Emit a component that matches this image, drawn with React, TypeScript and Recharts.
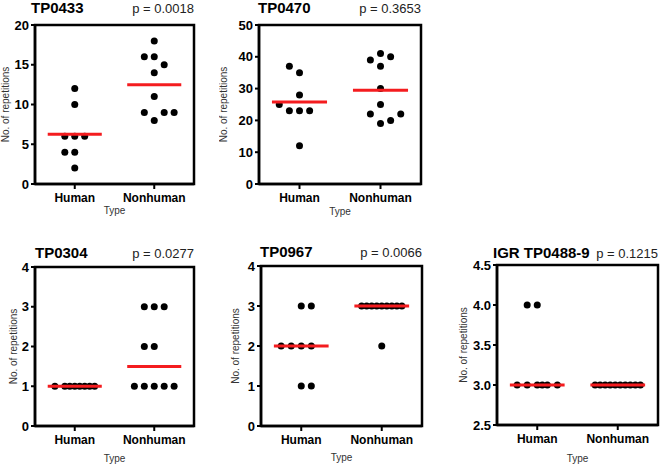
import { ScatterChart, Scatter, XAxis, YAxis, ReferenceArea } from "recharts";

const GROUPS = ["Human", "Nonhuman"];

// TP0433
const TP0433_HUMAN = [12, 10, 6, 6, 6, 4, 4, 2];
const TP0433_HUMAN_SLOT = [0, 0, -2, 0, 2, -2, 0, 0];
const TP0433_NONHUMAN = [18, 16, 16, 15, 14, 11, 9, 9, 9, 8];
const TP0433_NONHUMAN_SLOT = [0, -2, 0, 2, 0, 0, -2, 2, 4, 0];
const TP0433_CENTER = [6.25, 12.5];
const TP0433_TICKS = [0, 5, 10, 15, 20];

// TP0470
const TP0470_HUMAN = [37, 35, 28, 25, 23, 23, 23, 12];
const TP0470_HUMAN_SLOT = [-2, 0, 0, -4, -2, 0, 2, 0];
const TP0470_NONHUMAN = [41, 40, 39, 37, 30, 25, 22, 22, 20, 19];
const TP0470_NONHUMAN_SLOT = [0, 2, -2, 0, 0, 0, -2, 4, 2, 0];
const TP0470_CENTER = [25.75, 29.5];
const TP0470_TICKS = [0, 10, 20, 30, 40, 50];

// TP0304
const TP0304_HUMAN = [1, 1, 1, 1, 1, 1, 1, 1];
const TP0304_HUMAN_SLOT = [-4, -2, -1, 0, 1, 2, 3, 4];
const TP0304_NONHUMAN = [3, 3, 3, 2, 2, 1, 1, 1, 1, 1];
const TP0304_NONHUMAN_SLOT = [-2, 0, 2, -2, 0, -4, -2, 0, 2, 4];
const TP0304_CENTER = [1, 1.5];
const TP0304_TICKS = [0, 1, 2, 3, 4];

// TP0967
const TP0967_HUMAN = [3, 3, 2, 2, 2, 2, 1, 1];
const TP0967_HUMAN_SLOT = [0, 2, -4, -2, 0, 2, 0, 2];
const TP0967_NONHUMAN = [3, 3, 3, 3, 3, 3, 3, 3, 3, 2];
const TP0967_NONHUMAN_SLOT = [-4, -3, -2, -1, 0, 1, 2, 3, 4, 0];
const TP0967_CENTER = [2, 3];
const TP0967_TICKS = [0, 1, 2, 3, 4];

// IGR TP0488-9
const IGR_HUMAN = [4, 4, 3, 3, 3, 3, 3, 3];
const IGR_HUMAN_SLOT = [-2, 0, -4, -2, 0, 1, 2, 4];
const IGR_NONHUMAN = [3, 3, 3, 3, 3, 3, 3, 3, 3, 3];
const IGR_NONHUMAN_SLOT = [-4.5, -3.5, -2.5, -1.5, -0.5, 0.5, 1.5, 2.5, 3.5, 4.5];
const IGR_CENTER = [3, 3];
const IGR_TICKS = [2.5, 3, 3.5, 4, 4.5];

const SLOT = 0.0625; // horizontal jitter step, in category units
const HALF = 0.34; // half-width of the red centre line
const RED = "#f41c1f";
const FONT = "'Liberation Sans', Arial, sans-serif";

const panels = [
  {
    title: "TP0433", p: "p = 0.0018", values: [TP0433_HUMAN, TP0433_NONHUMAN],
    slots: [TP0433_HUMAN_SLOT, TP0433_NONHUMAN_SLOT], center: TP0433_CENTER, ticks: TP0433_TICKS,
    left: 35, top: 25, w: 159, h: 159, yLabelOffset: 10, typeOffset: 15, titleBase: 12.5, titleDx: -4, fmt: (v: number) => String(v),
  },
  {
    title: "TP0470", p: "p = 0.3653", values: [TP0470_HUMAN, TP0470_NONHUMAN],
    slots: [TP0470_HUMAN_SLOT, TP0470_NONHUMAN_SLOT], center: TP0470_CENTER, ticks: TP0470_TICKS,
    left: 259, top: 25, w: 162, h: 159, yLabelOffset: 4, typeOffset: 14, titleBase: 12.5, titleDx: -1, fmt: (v: number) => String(v),
  },
  {
    title: "TP0304", p: "p = 0.0277", values: [TP0304_HUMAN, TP0304_NONHUMAN],
    slots: [TP0304_HUMAN_SLOT, TP0304_NONHUMAN_SLOT], center: TP0304_CENTER, ticks: TP0304_TICKS,
    left: 35, top: 267, w: 159, h: 159, yLabelOffset: 18, typeOffset: 9, titleBase: 258, titleDx: 0, fmt: (v: number) => String(v),
  },
  {
    title: "TP0967", p: "p = 0.0066", values: [TP0967_HUMAN, TP0967_NONHUMAN],
    slots: [TP0967_HUMAN_SLOT, TP0967_NONHUMAN_SLOT], center: TP0967_CENTER, ticks: TP0967_TICKS,
    left: 261, top: 266, w: 161, h: 160, yLabelOffset: 14, typeOffset: 10, titleBase: 257, titleDx: -1, fmt: (v: number) => String(v),
  },
  {
    title: "IGR TP0488-9", p: "p = 0.1215", values: [IGR_HUMAN, IGR_NONHUMAN],
    slots: [IGR_HUMAN_SLOT, IGR_NONHUMAN_SLOT], center: IGR_CENTER, ticks: IGR_TICKS,
    left: 497, top: 265, w: 161, h: 160, yLabelOffset: 6, typeOffset: 8, titleBase: 258, titleDx: -4, fmt: (v: number) => v.toFixed(1),
  },
];

const Dot = (props: any) => <circle cx={props.cx} cy={props.cy} r={3.5} fill="#000" />;
const NoDot = () => <g />;

function Panel({ cfg }: { cfg: (typeof panels)[number] }) {
  const domain = [cfg.ticks[0], cfg.ticks[cfg.ticks.length - 1]];
  return (
    <>
      <div
        style={{
          position: "absolute", left: cfg.left + cfg.titleDx, top: cfg.titleBase - 12,
          width: cfg.w - cfg.titleDx, display: "flex", justifyContent: "space-between",
          alignItems: "baseline", lineHeight: "13px", whiteSpace: "nowrap", fontFamily: FONT,
        }}
      >
        <span style={{ fontWeight: 700, fontSize: 15, color: "#000" }}>{cfg.title}</span>
        <span style={{ fontSize: 13, color: "#222" }}>{cfg.p}</span>
      </div>
      <div style={{ position: "absolute", left: cfg.left - 40, top: cfg.top - 25 }}>
        <ScatterChart width={cfg.w + 42} height={cfg.h + 70} margin={{ top: 25, right: 2, bottom: 0, left: 0 }}>
          <XAxis
            type="number" dataKey="x" domain={[0.5, 2.5]} ticks={[1, 2]} height={45}
            tickFormatter={(v) => GROUPS[v - 1]}
            tick={{ fill: "#000", fontSize: 12, fontWeight: 700, fontFamily: FONT }}
            tickSize={5} tickMargin={4}
            tickLine={{ stroke: "#000", strokeWidth: 2 }}
            axisLine={{ stroke: "#000", strokeWidth: 2.5 }}
            label={{ value: "Type", position: "insideBottom", offset: cfg.typeOffset, fill: "#333", fontSize: 10, fontFamily: FONT }}
          />
          <YAxis
            type="number" dataKey="y" domain={domain} ticks={cfg.ticks} width={40}
            tickFormatter={cfg.fmt} interval={0}
            tick={{ fill: "#000", fontSize: 13, fontWeight: 700, fontFamily: FONT }}
            tickSize={4} tickMargin={2}
            tickLine={{ stroke: "#000", strokeWidth: 2 }}
            axisLine={{ stroke: "#000", strokeWidth: 2.5 }}
            label={{
              value: "No. of repetitions", angle: -90, position: "insideLeft", offset: cfg.yLabelOffset,
              fill: "#333", fontSize: 10, fontFamily: FONT, style: { textAnchor: "middle" },
            }}
          />
          <ReferenceArea x1={0.5} x2={2.5} y1={domain[0]} y2={domain[1]} fill="none" fillOpacity={0} stroke="#000" strokeWidth={2.5} />
          {GROUPS.map((g, gi) => (
            <Scatter
              key={g}
              data={cfg.values[gi].map((v, i) => ({ x: gi + 1 + cfg.slots[gi][i] * SLOT, y: v }))}
              shape={Dot}
              isAnimationActive={false}
            />
          ))}
          {GROUPS.map((g, gi) => (
            <Scatter
              key={g + "-center"}
              data={[
                { x: gi + 1 - HALF, y: cfg.center[gi] },
                { x: gi + 1 + HALF, y: cfg.center[gi] },
              ]}
              line={{ stroke: RED, strokeWidth: 3 }}
              shape={NoDot}
              isAnimationActive={false}
            />
          ))}
        </ScatterChart>
      </div>
    </>
  );
}

export default function App() {
  return (
    <div style={{ position: "absolute", left: 0, top: 0, width: 660, height: 466, background: "#fff", overflow: "hidden" }}>
      {panels.map((cfg) => (
        <Panel key={cfg.title} cfg={cfg} />
      ))}
    </div>
  );
}
